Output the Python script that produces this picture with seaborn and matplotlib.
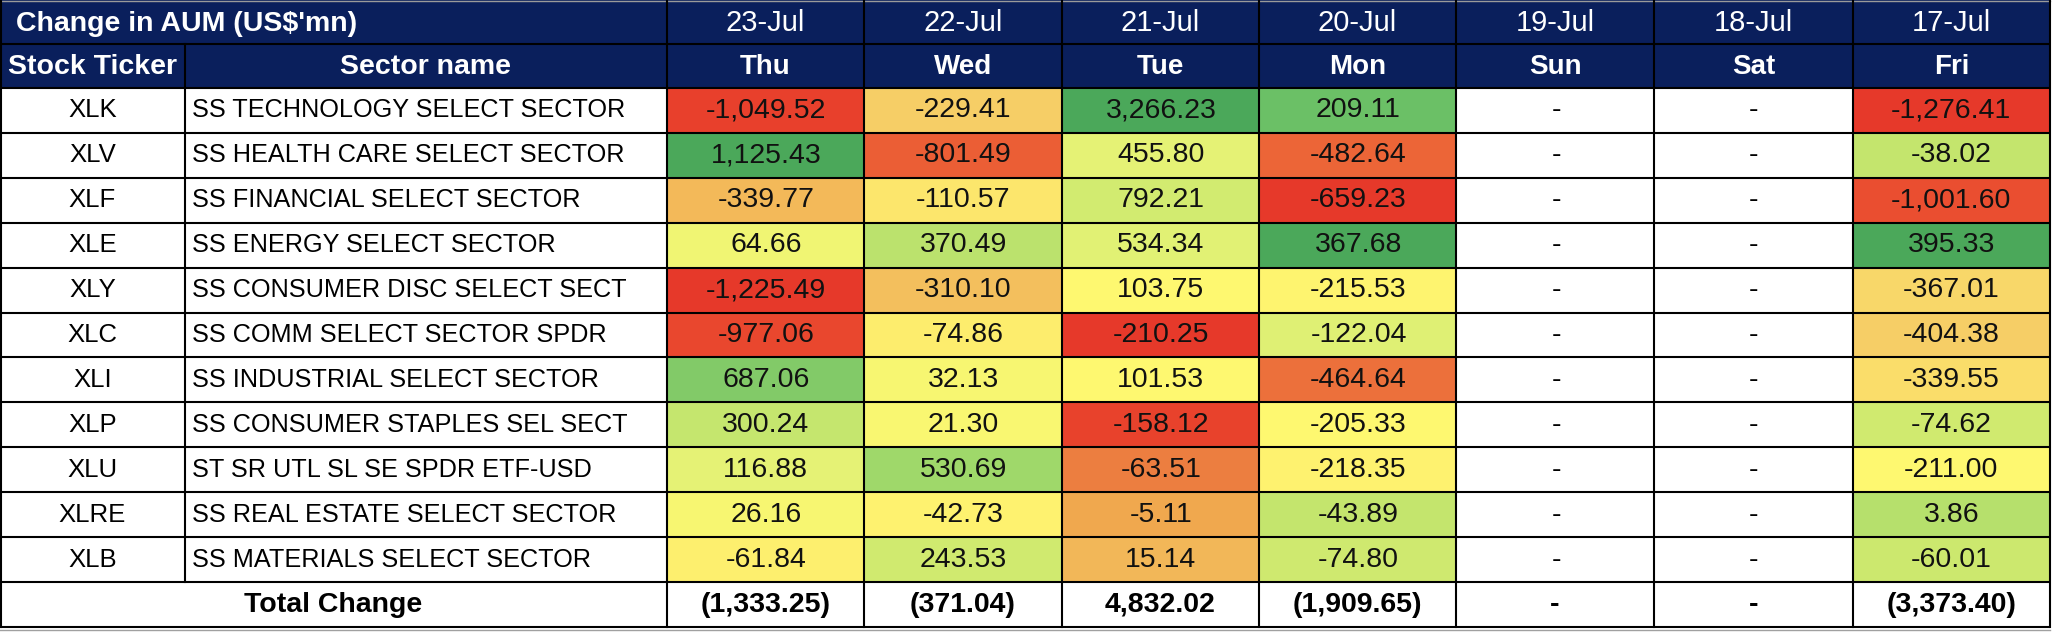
import numpy as np
import pandas as pd
import matplotlib
matplotlib.use("Agg")
import matplotlib.pyplot as plt
import seaborn as sns
from matplotlib.colors import LinearSegmentedColormap
from matplotlib.patches import Rectangle

# ---- data ----
dates = ["23-Jul", "22-Jul", "21-Jul", "20-Jul", "19-Jul", "18-Jul", "17-Jul"]
weekdays = ["Thu", "Wed", "Tue", "Mon", "Sun", "Sat", "Fri"]
tickers = ["XLK", "XLV", "XLF", "XLE", "XLY", "XLC", "XLI", "XLP", "XLU", "XLRE", "XLB"]
sectors = [
    "SS TECHNOLOGY SELECT SECTOR",
    "SS HEALTH CARE SELECT SECTOR",
    "SS FINANCIAL SELECT SECTOR",
    "SS ENERGY SELECT SECTOR",
    "SS CONSUMER DISC SELECT SECT",
    "SS COMM SELECT SECTOR SPDR",
    "SS INDUSTRIAL SELECT SECTOR",
    "SS CONSUMER STAPLES SEL SECT",
    "ST SR UTL SL SE SPDR ETF-USD",
    "SS REAL ESTATE SELECT SECTOR",
    "SS MATERIALS SELECT SECTOR",
]
jul23 = [-1049.52, 1125.43, -339.77, 64.66, -1225.49, -977.06, 687.06, 300.24, 116.88, 26.16, -61.84]
jul22 = [-229.41, -801.49, -110.57, 370.49, -310.10, -74.86, 32.13, 21.30, 530.69, -42.73, 243.53]
jul21 = [3266.23, 455.80, 792.21, 534.34, 103.75, -210.25, 101.53, -158.12, -63.51, -5.11, 15.14]
jul20 = [209.11, -482.64, -659.23, 367.68, -215.53, -122.04, -464.64, -205.33, -218.35, -43.89, -74.80]
jul19 = [np.nan] * 11
jul18 = [np.nan] * 11
jul17 = [-1276.41, -38.02, -1001.60, 395.33, -367.01, -404.38, -339.55, -74.62, -211.00, 3.86, -60.01]
totals = [-1333.25, -371.04, 4832.02, -1909.65, np.nan, np.nan, -3373.40]

# conditional-format ranges: 23-Jul and 22-Jul share one colour scale
scale_group = [0, 0, 1, 2, 3, 4, 5]

plt.rcParams["font.family"] = ["Liberation Sans", "DejaVu Sans"]

NAVY = "#0A1F5C"
# red -> yellow -> green scale, sampled from the sheet
cmap = LinearSegmentedColormap.from_list("ryg", [
    (0.00, "#E6392A"), (0.08, "#E8412C"), (0.13, "#EA4E30"), (0.195, "#EC6637"),
    (0.235, "#EC7E40"), (0.33, "#F0A84E"), (0.41, "#F6CF67"), (0.46, "#FCE76C"),
    (0.50, "#FFF870"), (0.56, "#E4F275"), (0.625, "#CBE86E"), (0.75, "#9AD66A"),
    (0.86, "#6CC066"), (1.00, "#4BA85A"),
])

df = pd.DataFrame(dict(zip(dates, [jul23, jul22, jul21, jul20, jul19, jul18, jul17])), index=tickers)


def scale_values(frame, groups):
    # Excel 3-colour scale: min -> 0, 50th percentile -> 0.5, max -> 1
    out = frame.copy() * np.nan
    for g in set(groups):
        cols = [c for c, k in zip(frame.columns, groups) if k == g]
        vals = frame[cols].values
        if np.all(np.isnan(vals)):
            continue
        lo, mid, hi = np.nanmin(vals), np.nanmedian(vals), np.nanmax(vals)
        v = frame[cols]
        out[cols] = np.where(v <= mid, 0.5 * (v - lo) / (mid - lo), 0.5 + 0.5 * (v - mid) / (hi - mid))
    return out


def fmt_cell(v):
    return "-" if np.isnan(v) else f"{v:,.2f}"


def fmt_total(v):
    if np.isnan(v):
        return "-"
    return f"({abs(v):,.2f})" if v < 0 else f"{v:,.2f}"


W, H = 2052, 640
col_x = [0, 185, 667, 864, 1062, 1259, 1456, 1654, 1853, 2050]
row_h = (582 - 88) / 11
row_y = [0, 44, 88] + [88 + row_h * (i + 1) for i in range(11)] + [627]

fig = plt.figure(figsize=(W / 100, H / 100), dpi=100)
fig.patch.set_facecolor("white")

# background axes in pixel coordinates
bg = fig.add_axes([0, 0, 1, 1])
bg.set_xlim(0, W)
bg.set_ylim(H, 0)
bg.axis("off")
bg.add_patch(Rectangle((0, 0), col_x[-1], 88, color=NAVY, lw=0))

bg.text(16, 24, "Change in AUM (US$'mn)", color="white", fontsize=20.5, fontweight="bold", va="center", ha="left")
bg.text((col_x[0] + col_x[1]) / 2, 67, "Stock Ticker", color="white", fontsize=20.5, fontweight="bold", va="center", ha="center")
bg.text((col_x[1] + col_x[2]) / 2, 67, "Sector name", color="white", fontsize=20.5, fontweight="bold", va="center", ha="center")
for j, (d, wd) in enumerate(zip(dates, weekdays)):
    cx = (col_x[j + 2] + col_x[j + 3]) / 2
    bg.text(cx, 23, d, color="white", fontsize=21, va="center", ha="center")
    bg.text(cx, 67, wd, color="white", fontsize=20, fontweight="bold", va="center", ha="center")

for i, (t, s) in enumerate(zip(tickers, sectors)):
    cy = (row_y[i + 2] + row_y[i + 3]) / 2
    bg.text((col_x[0] + col_x[1]) / 2, cy, t, fontsize=18.5, va="center", ha="center")
    bg.text(col_x[1] + 7, cy, s, fontsize=18.2, va="center", ha="left")

ty = (row_y[-2] + row_y[-1]) / 2
bg.text((col_x[0] + col_x[2]) / 2, ty, "Total Change", fontsize=20.5, fontweight="bold", va="center", ha="center")
for j, v in enumerate(totals):
    bg.text((col_x[j + 2] + col_x[j + 3]) / 2, ty, fmt_total(v), fontsize=20.5, fontweight="bold", va="center", ha="center")

# heatmap block
hm = fig.add_axes([col_x[2] / W, 1 - row_y[-2] / H, (col_x[-1] - col_x[2]) / W, (row_y[-2] - 88) / H])
hm.set_facecolor("white")
annot = np.vectorize(fmt_cell)(df.values)
sns.heatmap(scale_values(df, scale_group), ax=hm, cmap=cmap, vmin=0, vmax=1, cbar=False,
            annot=annot, fmt="", annot_kws={"fontsize": 20.5, "color": "#111111"},
            linewidths=0, xticklabels=False, yticklabels=False)
for i in range(df.shape[0]):
    for j in range(df.shape[1]):
        if np.isnan(df.iat[i, j]):
            hm.text(j + 0.5, i + 0.5, "-", fontsize=20.5, ha="center", va="center")
hm.set_xlabel("")
hm.set_ylabel("")

# grid lines on top
top = fig.add_axes([0, 0, 1, 1])
top.set_xlim(0, W)
top.set_ylim(H, 0)
top.axis("off")
top.patch.set_alpha(0)
lw = 1.5
for y in row_y[1:]:
    top.plot([0, col_x[-1]], [y, y], color="black", lw=lw, solid_capstyle="butt")
top.plot([0, col_x[-1]], [1, 1], color="#9A9A9A", lw=1)
for k, x in enumerate(col_x):
    if k == 1:
        top.plot([x, x], [44, row_y[-2]], color="black", lw=lw)
    elif k == 0:
        top.plot([x + 0.8, x + 0.8], [0, row_y[-1]], color="black", lw=lw)
    else:
        top.plot([x, x], [0, row_y[-1]], color="black", lw=lw)
top.plot([0, col_x[-1]], [row_y[-1] + 2.5, row_y[-1] + 2.5], color="#A0A0A0", lw=1)

fig.savefig("out.png", dpi=100, facecolor="white")
